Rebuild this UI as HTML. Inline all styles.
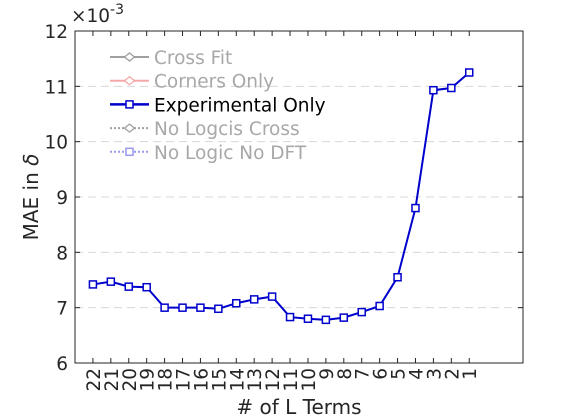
<!DOCTYPE html>
<html><head><meta charset="utf-8"><style>body{margin:0;background:#fff}svg{display:block;font-family:"DejaVu Sans","Liberation Sans",sans-serif}</style></head>
<body>
<svg id="c" width="578" height="420"></svg>
<script>
const categories=["22","21","20","19","18","17","16","15","14","13","12","11","10","9","8","7","6","5","4","3","2","1"];
const maeValues=[7.42,7.47,7.38,7.37,7.0,7.0,7.0,6.98,7.08,7.15,7.2,6.83,6.8,6.78,6.82,6.92,7.03,7.55,8.8,10.93,10.97,11.25];
const yTicks=[6,7,8,9,10,11,12];
const legendLabels=["Cross Fit","Corners Only","Experimental Only","No Logcis Cross","No Logic No DFT"];
const L=75,R=523,T=31,B=363,xmin=0,xmax=25,ymin=6,ymax=12;
const sx=i=>L+(i-xmin)/(xmax-xmin)*(R-L);
const sy=v=>B-(v-ymin)/(ymax-ymin)*(B-T);
const svg=document.getElementById('c');const NS='http://www.w3.org/2000/svg';
function mk(t,a,p){const e=document.createElementNS(NS,t);for(const k in a)e.setAttribute(k,a[k]);(p||svg).appendChild(e);return e;}
yTicks.forEach(v=>{if(v>ymin&&v<ymax){const g=mk('line',{x1:L,x2:R,y1:sy(v),y2:sy(v),stroke:'#d8d8d8','stroke-dasharray':'8,5'});

}});
const box=mk('rect',{x:L,y:T,width:R-L,height:B-T,fill:'none',stroke:'#262626'});


yTicks.forEach(v=>{const y=sy(v);mk('line',{x1:L,x2:L+5,y1:y,y2:y,stroke:'#262626'});mk('line',{x1:R,x2:R-5,y1:y,y2:y,stroke:'#262626'});
const t=mk('text',{x:L-7,y:y+7,'text-anchor':'end','font-size':18.5,fill:'#262626'});t.textContent=v;

});
categories.forEach((c,i)=>{const x=sx(i+1);mk('line',{x1:x,x2:x,y1:B,y2:B-5,stroke:'#262626'});mk('line',{x1:x,x2:x,y1:T,y2:T+5,stroke:'#262626'});
const t=mk('text',{x:0,y:0,'text-anchor':'end','font-size':18.5,fill:'#262626',transform:`translate(${x+7},${B+5}) rotate(-90)`});t.textContent=c;

});
const ex=mk('text',{x:L-4,y:T-9,'font-size':18.5,fill:'#262626'});ex.innerHTML='×10<tspan dy="-8" font-size="14">-3</tspan>';


const yt=mk('text',{x:0,y:0,'text-anchor':'middle','font-size':20,fill:'#262626',transform:`translate(38,${(T+B)/2}) rotate(-90)`});yt.innerHTML='MAE in <tspan font-style="italic">δ</tspan>';


const xt=mk('text',{x:(L+R)/2,y:414,'text-anchor':'middle','font-size':20,fill:'#262626'});xt.textContent='# of L Terms';


const pts=maeValues.map((v,i)=>sx(i+1)+','+sy(v)).join(' ');
const ln=mk('polyline',{points:pts,fill:'none',stroke:'#0000cc','stroke-width':2});


maeValues.forEach((v,i)=>{const m=mk('rect',{x:sx(i+1)-3.5,y:sy(v)-3.5,width:7,height:7,fill:'#fff',stroke:'#0000cc','stroke-width':1.5});

});
const lc=[['#a0a0a0','','d'],['#f4a8a8','','d'],['#0000cc','','s'],['#a0a0a0','2,2','d'],['#9999ee','2,2','s']];
legendLabels.forEach((lab,k)=>{const y=57+k*23.7;const g=mk('g',{});


const [col,da,mkr]=lc[k];mk('line',{x1:110,x2:149,y1:y,y2:y,stroke:col,'stroke-width':k==2?2.5:2,'stroke-dasharray':da},g);
if(mkr=='s')mk('rect',{x:126,y:y-3.5,width:7,height:7,fill:'#fff',stroke:col,'stroke-width':1.5},g);
else mk('polygon',{points:`${129.5-5},${y} ${129.5},${y-4} ${129.5+5},${y} ${129.5},${y+4}`,fill:'#fff',stroke:col,'stroke-width':1.3},g);
const t=mk('text',{x:154,y:y+7,'font-size':18.5,fill:k==2?'#000':'#a8a8a8'},g);t.textContent=lab;});
</script>
</body></html>
